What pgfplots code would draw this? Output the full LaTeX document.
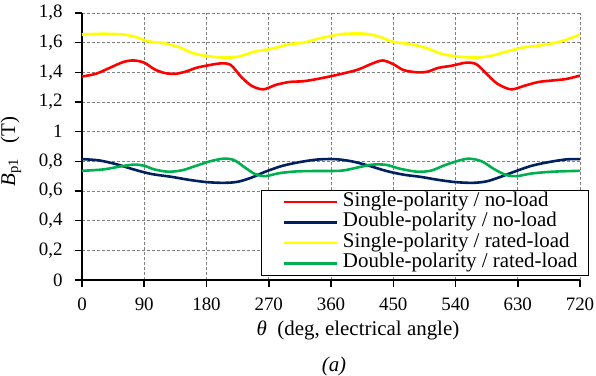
\documentclass[border=0pt]{standalone}
\usepackage{fontspec}
\setmainfont{Liberation Serif}
\usepackage{pgfplots}
\pgfplotsset{compat=1.18}
\definecolor{cRed}{RGB}{255,0,0}
\definecolor{cNavy}{RGB}{0,32,96}
\definecolor{cYel}{RGB}{255,255,0}
\definecolor{cGreen}{RGB}{0,176,80}
\pgfplotsset{
  mylegimg/.style={legend image code/.code={\path (-21bp,0) (53bp,0); \draw[##1, line width=2.4bp] (0bp,0bp) -- (53bp,0bp);}}
}
\begin{document}
\fontsize{19}{22}\selectfont
\begin{tikzpicture}
\begin{axis}[
  scale only axis,
  width=498bp, height=267bp,
  xmin=0, xmax=720, ymin=0, ymax=1.8,
  xtick={0,90,...,720},
  ytick={0,0.2,...,1.8},
  axis x line=bottom, axis y line=left,
  axis line style={line width=1.8bp, -},
  tick align=outside,
  major tick length=7bp,
  tick style={line width=1.5bp, black},
  grid=major,
  major grid style={gray, line width=0.7bp, dash pattern=on 3bp off 2bp},
  /pgf/number format/use comma,
  /pgf/number format/assume math mode=true,
  tick label style={font=\fontsize{19}{22}\selectfont},
  xticklabel style={yshift=-4.5bp},
  yticklabel style={xshift=-6bp},
  xlabel={\textit{θ}\ \ (deg, electrical angle)},
  ylabel={\textit{B}\textsubscript{p1}\hspace{0.7em}(T)},
  label style={font=\fontsize{21}{24}\selectfont},
  xlabel style={at={(axis description cs:0.5542,0)}, anchor=base, yshift=-55bp},
  ylabel style={at={(axis description cs:0,0.481)}, anchor=center, yshift=71bp},
  mylegimg,
  legend cell align=left,
  legend style={at={(0.3594,0.3371)}, anchor=north west, draw=black, line width=0.8bp,
    font=\fontsize{21}{22}\selectfont, row sep=0bp, column sep=5bp,
    inner xsep=0bp, inner ysep=1.5bp,
    nodes={inner sep=0bp, text height=14.5bp, text depth=6bp}},
  every axis plot/.append style={line width=2.6bp, smooth},
]
\addplot[cRed] coordinates {
(0,1.372)(20,1.39)(40,1.43)(60,1.47)(75,1.48)(90,1.465)(105,1.42)(120,1.395)(135,1.39)(150,1.405)(165,1.43)(180,1.445)(200,1.46)(215,1.45)(230,1.37)(245,1.31)(262,1.285)(280,1.315)(300,1.335)(320,1.34)(340,1.355)(360,1.374)(380,1.395)(400,1.42)(420,1.46)(435,1.48)(450,1.455)(465,1.415)(485,1.40)(500,1.405)(515,1.43)(535,1.445)(555,1.465)(570,1.455)(585,1.39)(600,1.325)(620,1.285)(640,1.31)(660,1.335)(680,1.345)(700,1.355)(720,1.378)};
\addlegendentry{Single-polarity / no-load\hspace*{40bp}}
\addplot[cNavy] coordinates {
(0,0.815)(25,0.806)(50,0.78)(75,0.745)(100,0.715)(130,0.695)(155,0.675)(180,0.66)(205,0.655)(225,0.662)(245,0.69)(265,0.73)(290,0.77)(315,0.795)(340,0.812)(365,0.815)(390,0.80)(415,0.77)(440,0.735)(465,0.71)(490,0.695)(515,0.675)(540,0.66)(565,0.655)(585,0.665)(605,0.695)(625,0.73)(650,0.77)(675,0.795)(700,0.813)(720,0.815)};
\addlegendentry{Double-polarity / no-load}
\addplot[cYel] coordinates {
(0,1.655)(30,1.66)(60,1.655)(80,1.635)(95,1.61)(120,1.595)(140,1.57)(160,1.53)(180,1.51)(205,1.50)(225,1.505)(250,1.54)(275,1.56)(300,1.59)(320,1.60)(340,1.625)(360,1.645)(380,1.66)(410,1.66)(430,1.64)(450,1.605)(475,1.59)(500,1.56)(520,1.525)(545,1.505)(570,1.50)(590,1.51)(610,1.535)(635,1.565)(660,1.58)(680,1.595)(700,1.62)(720,1.655)};
\addlegendentry{Single-polarity / rated-load}
\addplot[cGreen] coordinates {
(0,0.736)(30,0.745)(55,0.765)(75,0.778)(90,0.77)(105,0.745)(125,0.73)(145,0.74)(165,0.77)(185,0.80)(205,0.818)(220,0.808)(235,0.76)(250,0.715)(265,0.70)(285,0.72)(310,0.732)(340,0.735)(375,0.737)(400,0.76)(420,0.778)(440,0.776)(460,0.75)(485,0.73)(505,0.738)(525,0.775)(545,0.805)(560,0.818)(578,0.80)(595,0.75)(612,0.71)(628,0.70)(650,0.718)(680,0.73)(720,0.736)};
\addlegendentry{Double-polarity / rated-load}
\end{axis}
\node[font=\fontsize{21}{24}\selectfont\itshape] at (252bp,-86bp) {(a)};
\pgfresetboundingbox
\path[use as bounding box] (-82bp,-96bp) rectangle (514bp,280bp);
\end{tikzpicture}
\end{document}
